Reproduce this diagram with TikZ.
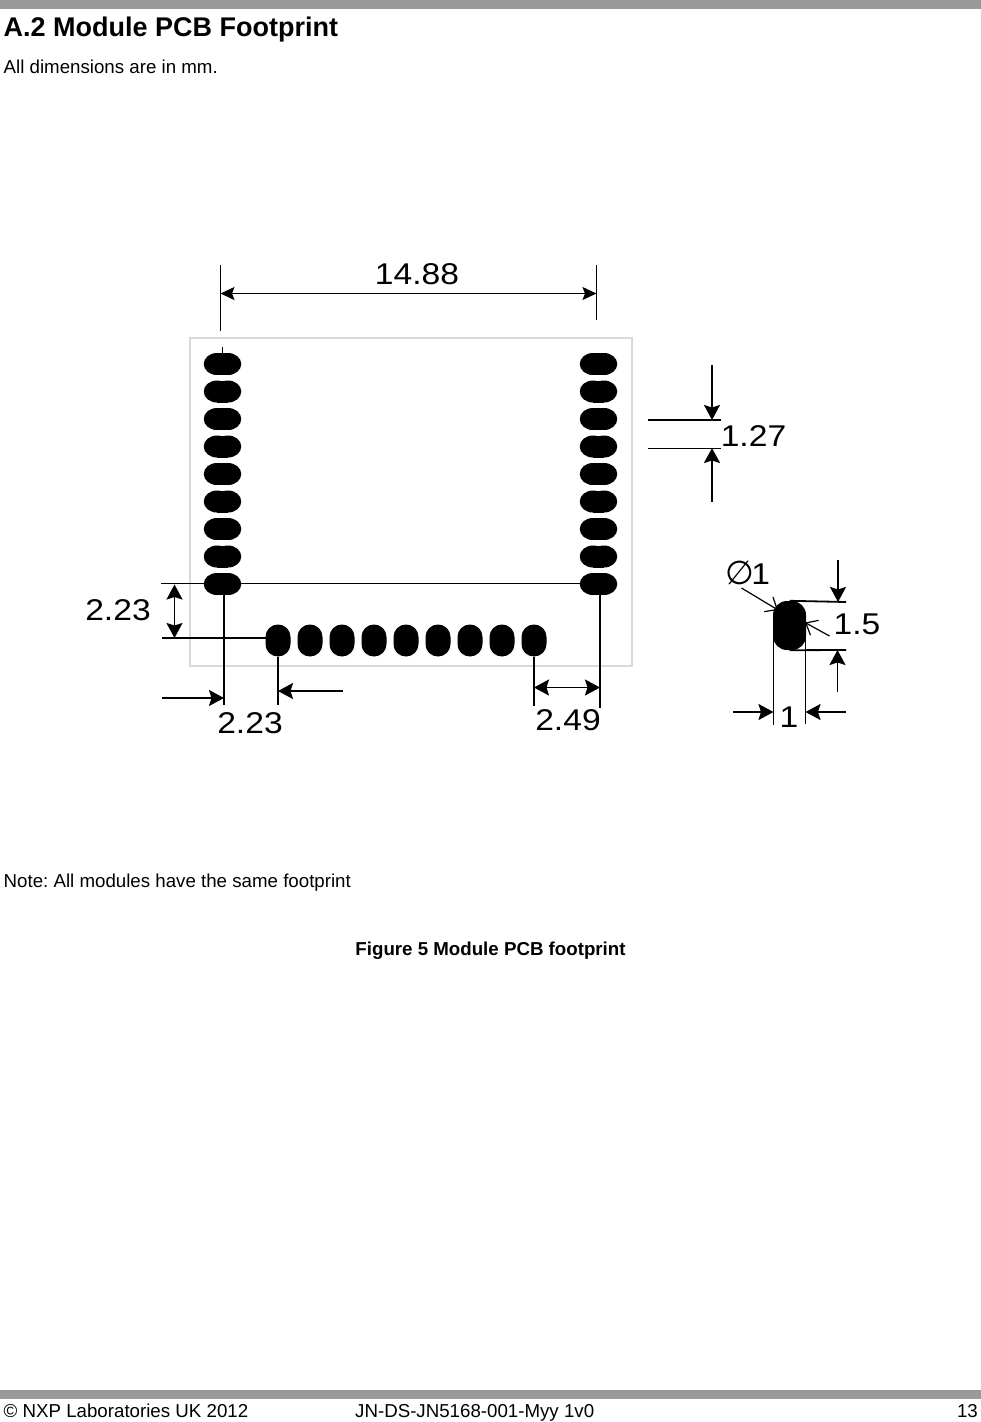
\documentclass[tikz,border=0pt]{standalone}
\usepackage{fontspec}
\setmainfont{Liberation Sans}
\newfontfamily\dimfont[FakeStretch=1.12]{Liberation Sans}
\newfontfamily\phifont{DejaVu Sans}
\frenchspacing
\usetikzlibrary{arrows.meta}
\tikzset{
  x=1pt,y=-1pt,
  hpad/.style={draw=none,minimum width=37.5pt,minimum height=22pt,inner sep=0pt},
  hpadink/.pic={
    \fill (-5.5,0) ellipse [x radius=13.25pt,y radius=11pt];
    \fill (5.5,0) ellipse [x radius=13.25pt,y radius=11pt];
    \fill (-5.5,-11) rectangle (5.5,11);
  },
  vpad/.style={fill=black,draw=none,rounded corners=12.4pt,minimum width=25pt,minimum height=32pt,inner sep=0pt},
  dim/.style={line width=1.8pt},
  arr/.style={line width=1.7pt,-{Stealth[length=15pt,width=16pt,inset=2.5pt]}},
  arrs/.style={line width=1.7pt,{Stealth[length=15pt,width=16pt,inset=2.5pt]}-{Stealth[length=15pt,width=16pt,inset=2.5pt]}},
  arrsw/.style={line width=1.2pt,{Stealth[length=14pt,width=13pt,inset=2.5pt]}-{Stealth[length=14pt,width=13pt,inset=2.5pt]}},
  open/.style={line width=1.2pt,-{Straight Barb[length=10pt,width=17pt]}},
  dimtext/.style={font=\dimfont\fontsize{30}{32}\selectfont,inner sep=0pt,anchor=center,text=black},
  doc/.style={inner sep=0pt,anchor=base west,text=black},
  bar/.style={fill=black!40,draw=none}
}
\begin{document}
\begin{tikzpicture}
\useasboundingbox (0,0) rectangle (981,1422);
\fill[white] (0,0) rectangle (981,1422);
\fill[bar] (0,0) rectangle (981,9);
\fill[bar] (0,1390) rectangle (981,1399);
\node[doc,font=\bfseries\fontsize{27}{30}\selectfont] (title) at (3.5,36) {A.2 Module PCB Footprint};
\node[doc,font=\fontsize{18.7}{20}\selectfont] (sub) at (3.5,73) {All dimensions are in mm.};
\node[doc,font=\fontsize{18.7}{20}\selectfont] (note) at (3.5,887) {Note: All modules have the same footprint};
\node[inner sep=0pt,anchor=base,font=\bfseries\fontsize{18.7}{20}\selectfont] (cap) at (490.5,955) {Figure 5 Module PCB footprint};
\node[doc,font=\fontsize{18.7}{20}\selectfont] (f1) at (3.5,1417) {© NXP Laboratories UK 2012};
\node[doc,font=\fontsize{18.7}{20}\selectfont] (f2) at (355,1417) {JN-DS-JN5168-001-Myy 1v0};
\node[inner sep=0pt,anchor=base east,font=\fontsize{18.7}{20}\selectfont] (f3) at (978,1417) {13};
% board
\draw[black!15,line width=2pt] (190,338) rectangle (632,666);
% side pads
\foreach \n/\y in {1/364,2/391.5,3/419,4/446.5,5/474,6/501.5,7/529,8/556.5,9/584}{
  \pic at (222.5,\y) {hpadink};
  \pic at (598.5,\y) {hpadink};
  \node[hpad] (l\n) at (222.5,\y) {};
  \node[hpad] (r\n) at (598.5,\y) {};
}
% bottom pads
\foreach \n/\x in {1/278,2/310,3/342,4/374,5/406,6/438,7/470,8/502,9/534}{
  \node[vpad] (b\n) at (\x,640.5) {};
}
% single pad
\node[fill=black,inner sep=0pt,rounded corners=14pt,minimum width=33pt,minimum height=49pt] (p) at (789.5,625.5) {};
% dim 14.88
\coordinate (a1) at (220.5,265); \coordinate (a2) at (220.5,331);
\coordinate (a3) at (596.5,265); \coordinate (a4) at (596.5,320);
\draw[dim] (a1) -- (a2); \draw[dim] (a3) -- (a4);
\draw[arrsw] (a1 |- 0,293.5) -- (a3 |- 0,293.5);
\draw[line width=.8pt] (222.5,347) -- (l1.north);
\node[dimtext] (t1488) at (417,274) {14.88};
% 1.27
\coordinate (c1) at (648,420); \coordinate (c2) at (721,420);
\coordinate (c3) at (648,448); \coordinate (c4) at (721,448);
\draw[dim] (c1) -- (c2); \draw[line width=1pt] (c3) -- (c4);
\coordinate (c5) at (712,365); \coordinate (c6) at (712,502);
\draw[arr] (c5) -- (c2 -| c5);
\draw[arr] (c6) -- (c4 -| c6);
\node[dimtext] (t127) at (753.5,436) {1.27};
% 2.23 left
\coordinate (d1) at (161,583.5); \coordinate (d2) at (162,638); \coordinate (d3) at (270,638);
\draw[line width=1.5pt] (d1) -- (r9.west |- d1);
\draw[dim] (d2) -- (d3);
\draw[arrs] (174.5,584.5) -- (174.5,638);
\node[dimtext] (t223a) at (118,610) {2.23};
% 2.23 bottom
\coordinate (e0) at (224,590); \coordinate (e1) at (224,705); \coordinate (e2) at (278,705);
\draw[dim] (e0) -- (e1);
\draw[dim] (b1.south) -- (e2);
\coordinate (e3) at (162,698); \coordinate (e4) at (343,691);
\draw[arr] (e3) -- (e1 |- e3);
\draw[arr] (e4) -- (e2 |- e4);
\node[dimtext] (t223b) at (250,723) {2.23};
% 2.49
\coordinate (g1) at (534,706); \coordinate (g2) at (600,708); \coordinate (g0) at (600,590);
\draw[dim] (b9.south) -- (g1);
\draw[dim] (g0) -- (g2);
\draw[arrs] (g1 |- 0,687.5) -- (g2 |- 0,687.5);
\node[dimtext] (t249) at (568,720) {2.49};
% single pad dims
\coordinate (h1) at (846,602); \coordinate (h2) at (846,650);
\draw[dim] (p.north) -- (h1);
\draw[dim] (p.south) -- (h2);
\coordinate (h3) at (838,560); \coordinate (h4) at (837.5,692);
\draw[arr] (h3) -- (h1 -| h3);
\draw[arr] (h4) -- (h2 -| h4);
\coordinate (k1) at (773.5,625); \coordinate (k2) at (773.5,725);
\coordinate (k3) at (805.5,625); \coordinate (k4) at (805.5,724);
\draw[dim] (k1) -- (k2);
\draw[dim] (k3) -- (k4);
\coordinate (k5) at (733,712); \coordinate (k6) at (846,712);
\draw[arr] (k5) -- (k1 |- k5);
\draw[arr] (k6) -- (k3 |- k6);
\node[dimtext] (t1) at (789,717) {1};
\node[dimtext] (t15) at (857,624) {1.5};
\node[dimtext,font=\fontsize{30}{32}\selectfont,anchor=base west] (tphi) at (725,584) {\phifont\fontsize{33}{33}\selectfont ∅\hspace{-2.5pt}\dimfont\fontsize{30}{32}\selectfont 1};
\coordinate (m1) at (741.5,588); \coordinate (m2) at (778,610);
\coordinate (m3) at (829.5,636); \coordinate (m4) at (805,622.5);
\draw[open] (m1) -- (m2);
\draw[open] (m3) -- (m4);
\end{tikzpicture}
\end{document}
